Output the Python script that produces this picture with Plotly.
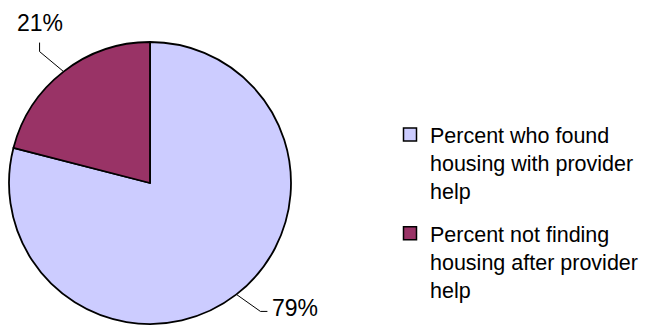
import math
import plotly.graph_objects as go

# Share of clients by housing outcome
labels = [
    "Percent who found<br>housing with provider<br>help",
    "Percent not finding<br>housing after provider<br>help",
]
values = [79, 21]
colors = ["#CCCCFF", "#993366"]

W, H = 670, 325
# pie placement in pixels (centre and radius)
cx, cy, r = 150, 183, 141
FONT = "Liberation Sans, Arial, sans-serif"

fig = go.Figure(
    go.Pie(
        labels=labels,
        values=values,
        sort=False,
        direction="clockwise",
        rotation=0,
        textinfo="none",
        hoverinfo="label+percent",
        showlegend=False,
        marker=dict(colors=colors, line=dict(color="black", width=1.8)),
        domain=dict(x=[(cx - r) / W, (cx + r) / W], y=[1 - (cy + r) / H, 1 - (cy - r) / H]),
    )
)

# legend keys, one group per category so the entries get a gap between them
for i, (lab, col) in enumerate(zip(labels, colors)):
    fig.add_trace(
        go.Scatter(
            x=[None], y=[None], mode="markers", name=lab, legendgroup=f"g{i}",
            marker=dict(symbol="square", size=13, color=col, line=dict(color="black", width=1.5)),
            hoverinfo="skip",
        )
    )

# outside percentage labels with elbow leader lines, placed from slice mid-angles
total = sum(values)
cum = 0
shapes, annotations = [], []
for v in values:
    mid = (cum + v / 2) / total * 2 * math.pi  # clockwise from 12 o'clock
    cum += v
    ux, uy = math.sin(mid), -math.cos(mid)  # screen direction (y down)
    ex, ey = cx + r * ux, cy + r * uy
    if ux < 0:
        # upper-left: diagonal then vertical up to the label
        bx, by = ex - 24, ey - 20
        tx, ty = bx, by - 9
        ann = dict(x=tx / W, y=1 - (ty - 20) / H, xanchor="center", yanchor="middle")
    else:
        # lower-right: diagonal then short horizontal to the label
        bx, by = ex + 24, ey + 17
        tx, ty = bx + 7, by
        ann = dict(x=(tx + 3) / W, y=1 - (ty - 3) / H, xanchor="left", yanchor="middle")
    pts = [(ex, ey), (bx, by), (tx, ty)]
    path = "M " + " L ".join(f"{px / W:.5f},{1 - py / H:.5f}" for px, py in pts)
    shapes.append(dict(type="path", xref="paper", yref="paper", path=path,
                       line=dict(color="black", width=1)))
    annotations.append(dict(ann, xref="paper", yref="paper", text=f"{v}%", showarrow=False,
                            font=dict(family=FONT, size=23, color="black")))

fig.update_layout(
    width=W,
    height=H,
    margin=dict(l=0, r=0, t=0, b=0),
    paper_bgcolor="white",
    plot_bgcolor="white",
    font=dict(family=FONT, color="black"),
    xaxis=dict(visible=False),
    yaxis=dict(visible=False),
    shapes=shapes,
    annotations=annotations,
    showlegend=True,
    legend=dict(
        x=390 / W,
        y=1 - 114 / H,
        xanchor="left",
        yanchor="top",
        valign="top",
        font=dict(size=21.5, color="black"),
        bgcolor="rgba(0,0,0,0)",
        traceorder="grouped",
        tracegroupgap=12,
    ),
)

fig.write_html("out.html")
